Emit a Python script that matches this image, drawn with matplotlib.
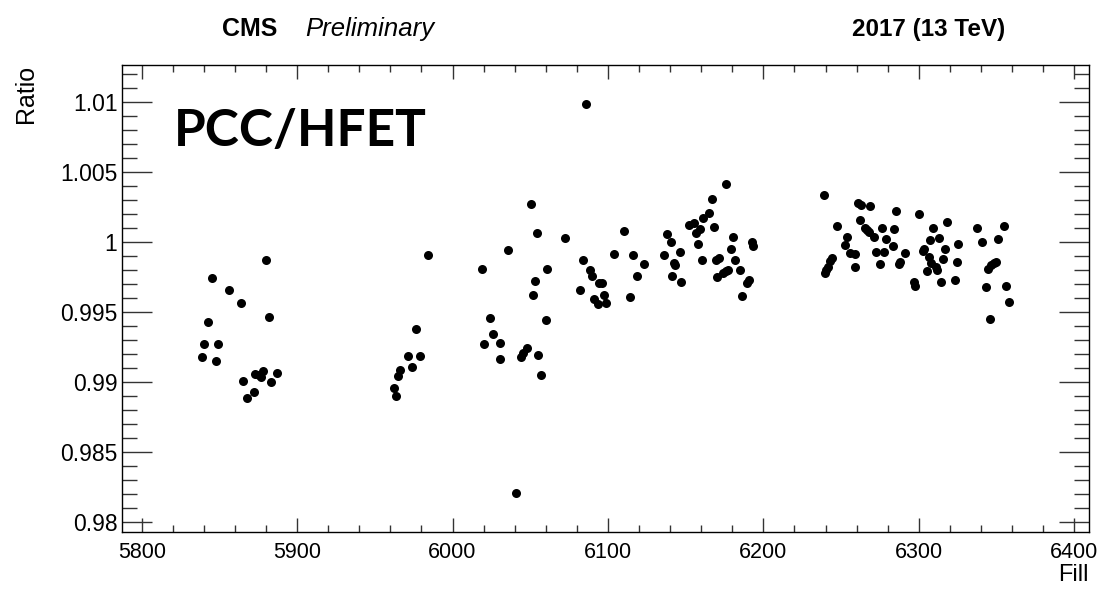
import matplotlib
matplotlib.use('Agg')
import matplotlib.pyplot as plt
from matplotlib.ticker import MultipleLocator, FixedLocator, FixedFormatter
import numpy as np

# fill number and PCC/HFET ratio
fill = [5880.2, 5845.0, 5856.2, 5863.9, 5842.5, 5881.7, 5840.1, 5849.1, 5839.0, 5848.0,
        5865.2, 5872.7, 5875.3, 5878.1, 5876.8, 5887.1, 5883.0, 5872.1, 5868.0,
        5984.0, 5976.3, 5971.2, 5979.1, 5973.9, 5966.2, 5965.1, 5962.2, 5963.4,
        6050.3, 6054.2, 6072.2, 6035.5, 6019.2, 6061.0, 6053.3, 6052.0, 6083.8, 6088.7,
        6090.0, 6094.5, 6096.4, 6082.2, 6091.1, 6093.3, 6024.3, 6060.0, 6025.9, 6020.3,
        6030.8, 6030.4, 6048.1, 6045.6, 6043.9, 6054.8, 6056.9, 6040.9, 6086.1,
        6097.3, 6098.6, 6110.2, 6103.9, 6116.3, 6123.0, 6118.9, 6114.0, 6137.8, 6140.3,
        6136.0, 6142.4, 6143.2, 6141.4, 6176.0, 6166.8, 6165.3, 6161.2, 6155.4, 6152.2,
        6159.3, 6156.7, 6168.3, 6158.2, 6180.5, 6192.5, 6193.4, 6146.2, 6179.2, 6160.4,
        6169.6, 6171.7, 6182.0, 6146.8, 6170.0, 6174.3, 6176.0, 6177.5, 6185.2, 6189.3,
        6191.0, 6186.1,
        6238.9, 6260.9, 6262.9, 6268.9, 6285.2, 6300.0, 6262.2, 6247.4, 6265.4, 6266.9,
        6268.2, 6276.2, 6284.1, 6271.4, 6279.2, 6253.7, 6252.4, 6283.3, 6255.6, 6258.8,
        6272.3, 6277.9, 6291.4, 6244.0, 6243.1, 6275.1, 6259.2, 6288.2, 6287.3, 6241.4,
        6240.3, 6239.7, 6296.7, 6297.6,
        6318.2, 6309.2, 6337.3, 6355.1, 6307.1, 6313.1, 6340.9, 6350.8, 6325.5, 6303.4,
        6302.6, 6317.1, 6306.4, 6315.4, 6324.5, 6307.9, 6310.9, 6312.0, 6305.3, 6344.4,
        6346.3, 6348.3, 6349.7, 6314.2, 6323.2, 6343.1, 6356.0, 6358.3, 6345.9]
ratio = [0.99871, 0.99740, 0.99654, 0.99561, 0.99425, 0.99461, 0.99268, 0.99268, 0.99177, 0.99146,
         0.99008, 0.99058, 0.99048, 0.99074, 0.99036, 0.99065, 0.98996, 0.98926, 0.98883,
         0.99905, 0.99380, 0.99187, 0.99182, 0.99108, 0.99086, 0.99041, 0.98957, 0.98897,
         1.00270, 1.00060, 1.00026, 0.99941, 0.99805, 0.99805, 0.99719, 0.99623, 0.99867, 0.99800,
         0.99754, 0.99704, 0.99704, 0.99654, 0.99593, 0.99555, 0.99456, 0.99444, 0.99344, 0.99270,
         0.99280, 0.99162, 0.99244, 0.99205, 0.99177, 0.99189, 0.99046, 0.98203, 1.00984,
         0.99621, 0.99563, 1.00077, 0.99914, 0.99907, 0.99840, 0.99754, 0.99604, 1.00057, 0.99996,
         0.99903, 0.99851, 0.99837, 0.99754, 1.00411, 1.00306, 1.00208, 1.00170, 1.00136, 1.00120,
         1.00093, 1.00060, 1.00103, 0.99986, 1.00032, 0.99998, 0.99967, 0.99924, 0.99950, 0.99867,
         0.99869, 0.99883, 0.99867, 0.99716, 0.99747, 0.99776, 0.99792, 0.99800, 0.99797, 0.99702,
         0.99726, 0.99611,
         1.00337, 1.00279, 1.00263, 1.00258, 1.00220, 1.00195, 1.00153, 1.00115, 1.00100, 1.00084,
         1.00069, 1.00096, 1.00089, 1.00034, 1.00019, 1.00036, 0.99976, 0.99971, 0.99919, 0.99912,
         0.99924, 0.99924, 0.99918, 0.99881, 0.99862, 0.99842, 0.99821, 0.99857, 0.99840, 0.99817,
         0.99795, 0.99776, 0.99709, 0.99683,
         1.00143, 1.00100, 1.00100, 1.00115, 1.00012, 1.00029, 1.00000, 1.00019, 0.99984, 0.99946,
         0.99936, 0.99946, 0.99888, 0.99876, 0.99855, 0.99845, 0.99817, 0.99795, 0.99788, 0.99802,
         0.99833, 0.99845, 0.99855, 0.99711, 0.99724, 0.99674, 0.99685, 0.99566, 0.99451]

yticks = [0.98, 0.985, 0.99, 0.995, 1.0, 1.005, 1.01]
yticklabels = ['0.98', '0.985', '0.99', '0.995', '1', '1.005', '1.01']
xticks = [5800, 5900, 6000, 6100, 6200, 6300, 6400]

plt.rcParams['font.family'] = ['Liberation Sans', 'DejaVu Sans']

fig = plt.figure(figsize=(11.03, 5.89), dpi=100)
ax = fig.add_axes([0.1103, 0.0968, 0.877, 0.7928])

ax.plot(fill, ratio, 'o', color='black', markersize=6.5, markeredgewidth=0)

ax.set_xlim(5787.1, 6409.5)
ax.set_ylim(0.97926, 1.01263)

ax.xaxis.set_major_locator(FixedLocator(xticks))
ax.xaxis.set_minor_locator(MultipleLocator(20))
ax.yaxis.set_major_locator(FixedLocator(yticks))
ax.yaxis.set_major_formatter(FixedFormatter(yticklabels))
ax.yaxis.set_minor_locator(MultipleLocator(0.001))

ax.tick_params(which='both', direction='in', top=True, right=True,
               color='#333333', width=1)
ax.tick_params(axis='x', which='major', length=10, pad=7, labelsize=15.5)
ax.tick_params(axis='x', which='minor', length=5)
ax.tick_params(axis='y', which='major', length=21.5, pad=3, labelsize=16.5)
ax.tick_params(axis='y', which='minor', length=10.8)
for s in ax.spines.values():
    s.set_linewidth(1)

ax.set_xlabel('Fill', fontsize=17, loc='right', labelpad=1)
ax.set_ylabel('Ratio', fontsize=18, loc='top', labelpad=16)

ax.text(0.054, 0.858, 'PCC/HFET', transform=ax.transAxes, fontsize=37,
        fontweight='bold', family=['Lato', 'DejaVu Sans'], va='center', ha='left')

fig.text(0.2015, 0.950, 'CMS', fontsize=18, fontweight='bold', va='center')
fig.text(0.2765, 0.950, 'Preliminary', fontsize=18.5, style='italic', va='center')
fig.text(0.911, 0.950, '2017 (13 TeV)', fontsize=17.5, fontweight='bold', va='center', ha='right')

fig.savefig('out.png', dpi=100)
